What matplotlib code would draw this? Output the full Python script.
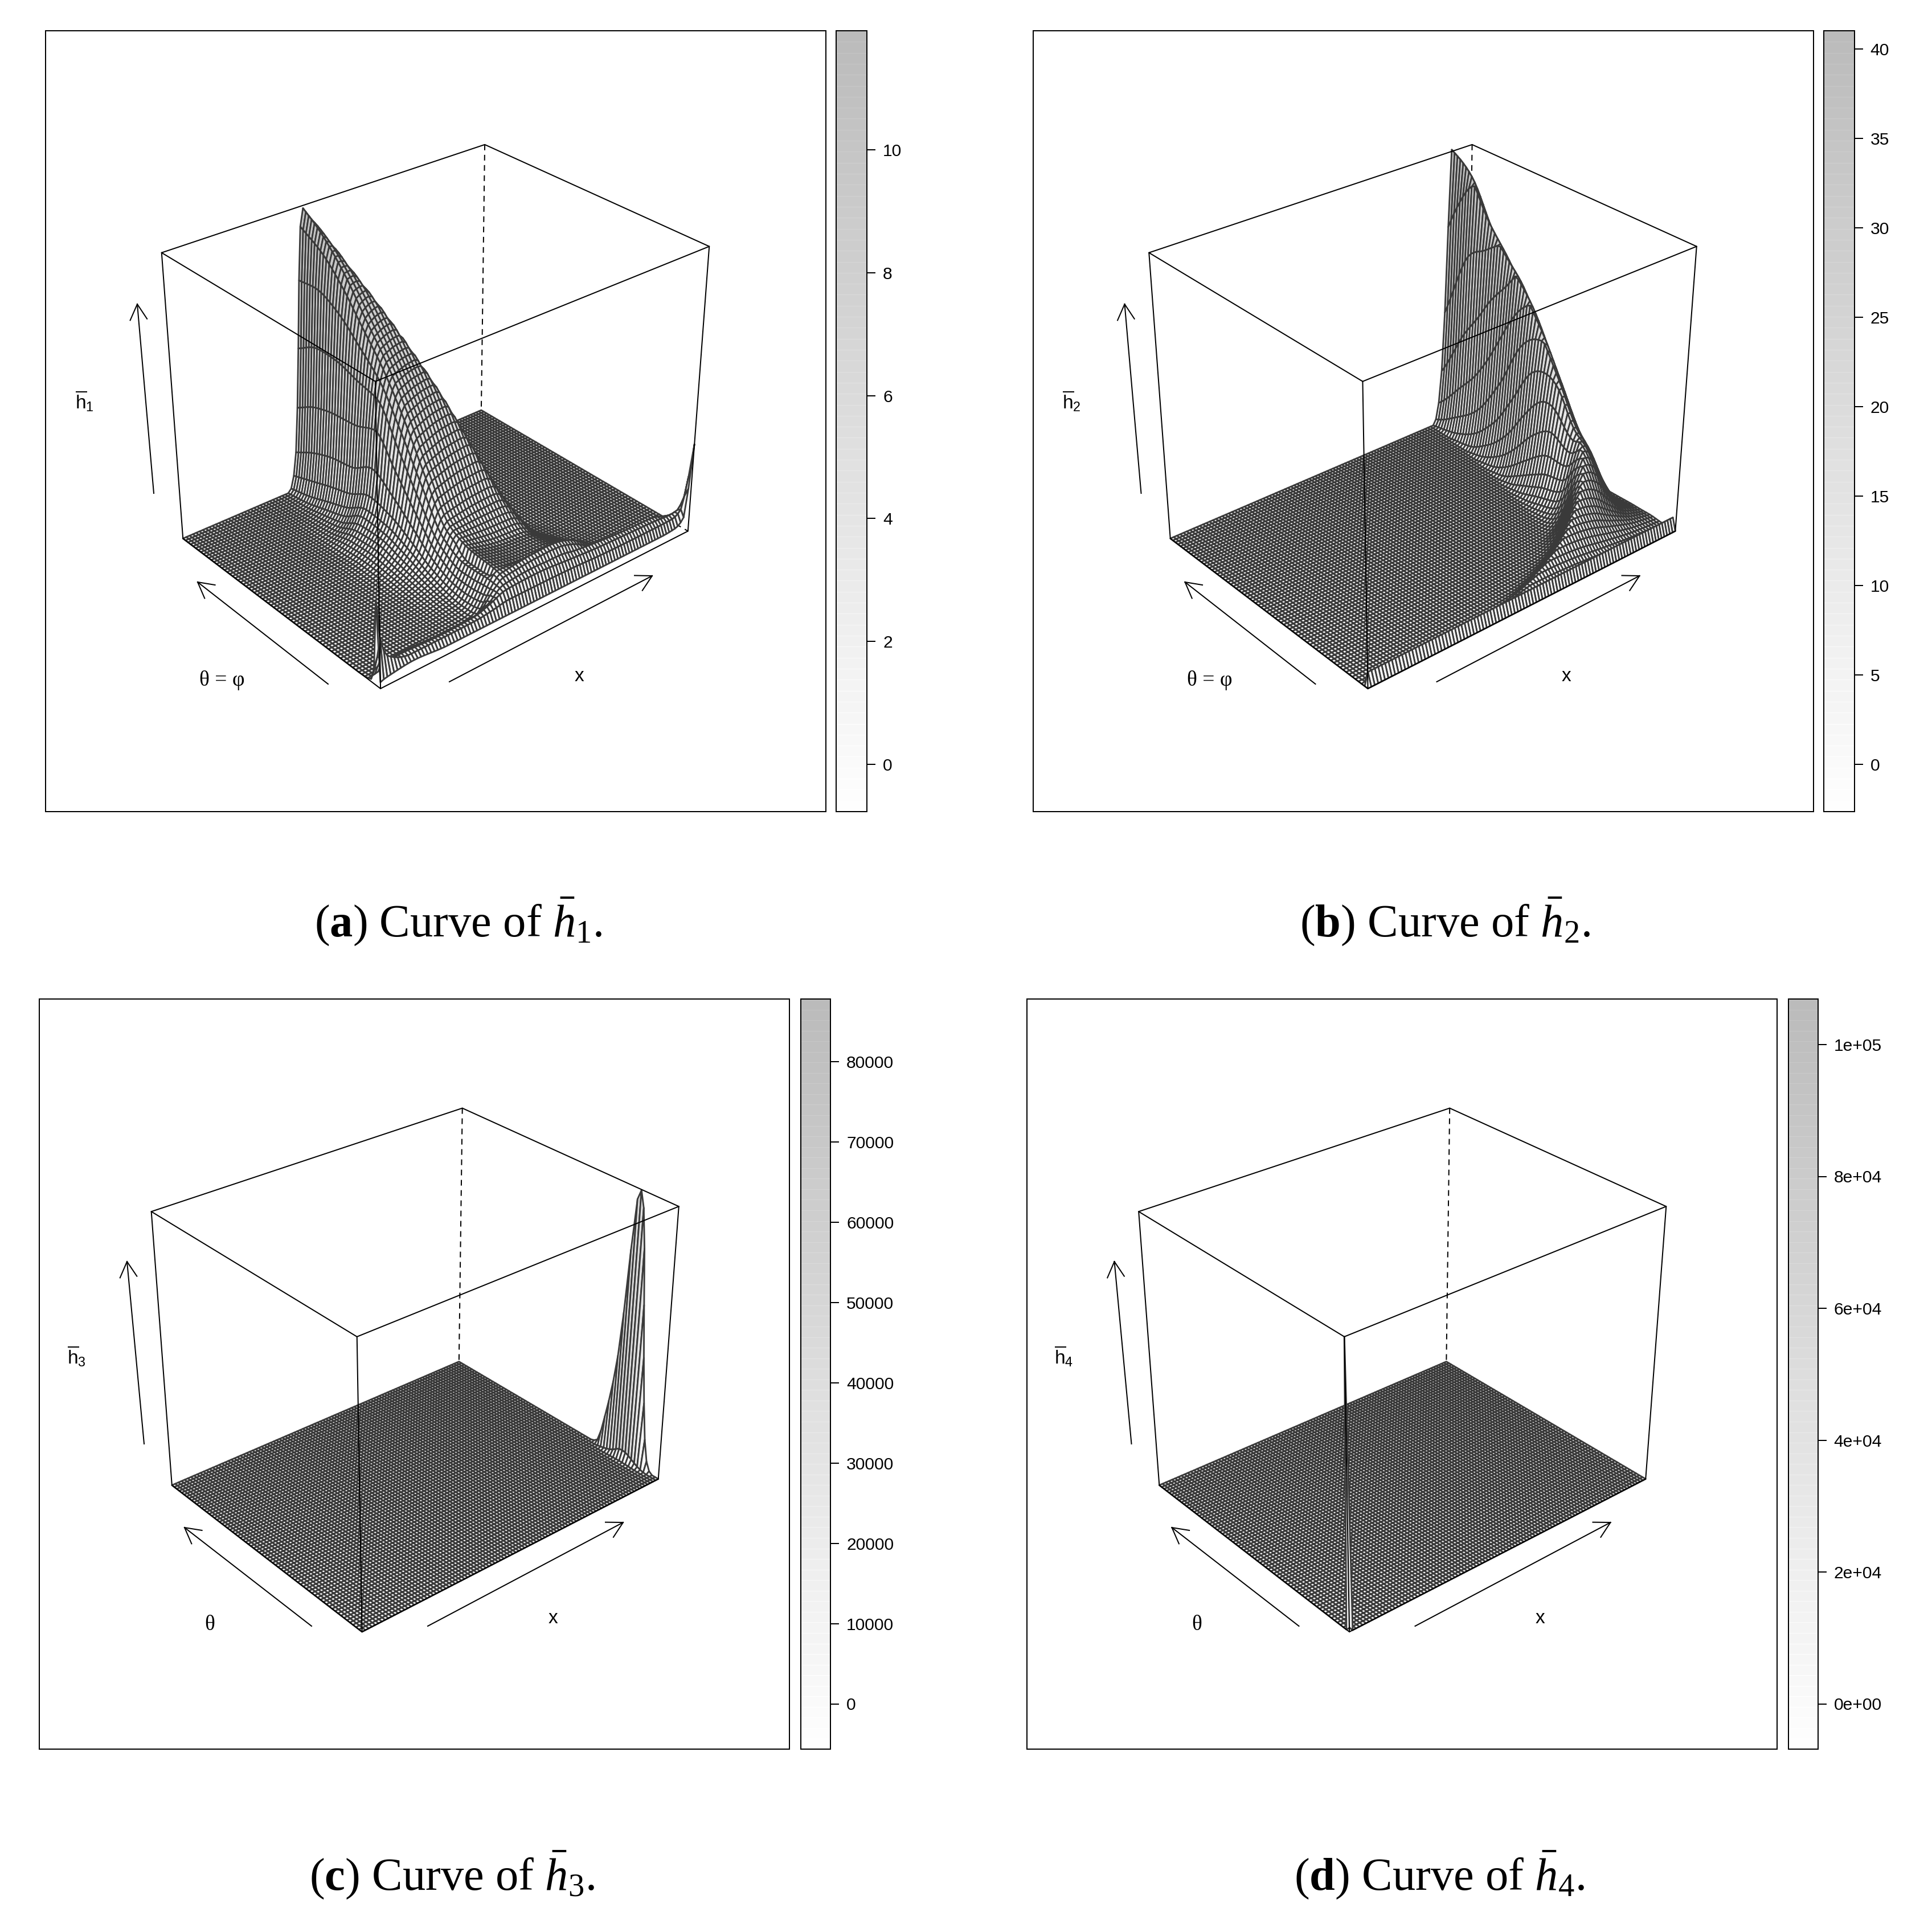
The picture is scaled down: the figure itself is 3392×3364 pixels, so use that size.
import numpy as np
import matplotlib
matplotlib.use("Agg")
import matplotlib.pyplot as plt
from matplotlib.collections import PolyCollection
from matplotlib.patches import Rectangle

plt.rcParams.update({
    "font.family": "Liberation Sans",
    "mathtext.fontset": "custom",
    "mathtext.rm": "Liberation Serif",
    "mathtext.it": "Liberation Serif:italic",
    "mathtext.bf": "Liberation Serif:bold",
    "mathtext.sf": "Liberation Sans",
})

# ---------------------------------------------------------------- data
# Control values. The fine mesh the reference draws cannot
# be read cell by cell, so it is resampled from these tables and outlines.
X_CELLS = 100
THETA_CELLS = 70

# h1: height along the rising flank, one row per theta in H1_FLANK_THETA
H1_FLANK_X = [0, .01, .03, .1, .2, .25, .285, .315, .335, .345, .355, .365, .375, .385, .395, .405]
H1_FLANK_THETA = [0, .05, .07, .1, .15, .2, .3, .4, .5, .6, .7, .8, .9, 1]
H1_FLANK_Z = [
    [0] * 16,
    [.05, .05, .1, .25, .3, .28, .3, .35, .45, .55, .7, .85, 1.0, 1.1, 1.2, 1.3],
    [.02, .02, .03, .05, .05, .05, .08, .15, .22, .32, .5, .7, .9, 1.1, 1.25, 1.4],
    [0, 0, 0, 0, .01, .01, .02, .05, .12, .22, .4, .6, .85, 1.1, 1.3, 1.5],
    [0, 0, 0, 0, 0, .01, .04, .08, .12, .2, .35, .55, .8, 1.05, 1.3, 1.55],
    [0, 0, 0, 0, .01, .03, .08, .15, .2, .28, .4, .58, .8, 1.05, 1.3, 1.6],
    [0, 0, 0, 0, .02, .06, .18, .35, .5, .6, .75, 1, 1.25, 1.5, 1.75, 2],
    [0, 0, 0, 0, .03, .1, .3, .6, .9, 1.1, 1.4, 1.9, 2.4, 2.9, 3.3, 3.6],
    [0, 0, 0, 0, .03, .12, .4, .85, 1.2, 1.5, 2.0, 2.9, 3.8, 4.5, 5, 5.4],
    [0, 0, 0, 0, .02, .06, .35, .8, 1.3, 1.6, 2.4, 3.7, 5.2, 6.0, 6.5, 6.9],
    [0, 0, 0, 0, 0, .02, .15, .4, .8, 1.2, 1.9, 3.3, 5.1, 6.6, 7.6, 8.1],
    [0, 0, 0, 0, 0, 0, .05, .2, .5, .9, 1.7, 3.2, 5.1, 7.2, 8.6, 9.4],
    [0, 0, 0, 0, 0, 0, 0, .05, .2, .6, 1.4, 2.9, 5, 7.4, 9.3, 10.4],
    [0, 0, 0, 0, 0, 0, 0, 0, 0, .4, .96, 2.43, 4.5, 7.08, 9.56, 11.15],
]
# h1: ridge line, per theta in H1_FLANK_THETA; None = taken from the outline below
H1_CREST_X = [.56, .56, .56, .56, .565, .57, .56, .53, .50, .475, .45, .43, .415, .405]
H1_FALL_WIDTH = [.3, .3, .3, .26, .22, .18, .14, .12, .11, .1, .1, .1, .1, .1]
H1_CREST_Z = [.1, 1.4, 1.6, None, None, None, None, None, None, None, None, None, None, None]
H1_TOP_AT = [0, .3, .6, 1]
H1_TOP_SHARE = [0, .45, .8, 1]
H1_OUTLINE_X = [528, 580, 627, 660, 697, 733, 763, 795, 817, 840, 867, 893, 917, 950, 973]
H1_OUTLINE_Y = [362, 427, 490, 533, 580, 640, 683, 740, 778, 823, 873, 913, 947, 970, 980]
# h1: low lip along the front edge and the corner spikes
H1_LIP_X = [0, .01, .03, .1, .2, .3, .35, .4, .5, .6, .7, .8, .9, .95, .98, 1]
H1_LIP_THETA = [0, .0143, .0286, .0429, .0571, .0714, .1]
H1_LIP_Z = [
    [.25, .3, .35, .45, .35, .35, .35, .35, .35, .35, .35, .35, .35, .4, .7, 3.6],
    [3.3, 1.8, 1.0, .6, .6, .62, .7, .8, .8, .78, .72, .7, .7, .72, .95, 2.2],
    [.6, 1.0, .7, .65, .6, .65, .85, 1.1, 1.15, 1.05, .95, .9, .85, .8, .85, 1.2],
    [.1, .4, .5, .55, .5, .5, .7, 1.2, 1.3, 1.2, 1.05, .95, .9, .7, .6, .7],
    [.05, .05, .1, .25, .3, .3, .3, .3, .3, .3, .3, .3, .3, .2, .2, .2],
    [.02, .02, .03, .05, .05, .05, .05, .05, .05, .05, .05, .05, .02, .02, .02, .02],
    [0] * 16,
]

# h2: ridge, per theta in H2_THETA
H2_THETA = [0, .03, .05, .1, .15, .2, .25, .3, .4, .5, .6, .7, .8, .9, .95, 1]
H2_FOOT_X = [.15, .27, .35, .5, .6, .66, .72, .75, .78, .8, .82, .835, .85, .86, .865, .87]
H2_CREST_X = [.42, .5, .55, .68, .76, .82, .85, .866, .872, .883, .895, .907, .915, .922, .926, .93]
H2_FALL_WIDTH = [.5, .5, .45, .35, .25, .18, .14, .12, .11, .1, .1, .1, .1, .1, .1, .1]
H2_CREST_Z = [0, .9, 1.5, 3.5, 5.5, 8, 10, None, None, None, None, None, None, None, None, None]
H2_OUTLINE_X = [2553, 2586, 2598, 2617, 2643, 2667, 2692, 2717, 2740, 2760, 2779, 2791, 2804, 2821, 2839]
H2_OUTLINE_Y = [263, 316, 366, 397, 450, 493, 550, 617, 689, 745, 800, 843, 882, 907, 929]
H2_RISE_SHARE = [0, .02, .08, .2, .42, .73, 1]
H2_RISE_AT = [0, .167, .333, .5, .667, .833, 1]
H2_LIP_THETA = [0, .0143, .0286, .0429]
H2_LIP_Z = [0, 1.7, .1, 0]

# shared by h1 and h2: drop behind the ridge
FALL_AT = [0, .1, .25, .5, .75, 1, 1.3]
FALL_SHARE = [1, .985, .88, .5, .17, .03, 0]

# h3: one spike on the far x edge
H3_X = [.96, .97, .98, .99, 1]
H3_X_SHARE = [0, 0, .003, .04, 1]
H3_THETA = [0, .03, .05, .07, .09, .11, .13, .15, .16, .175, .19, .21, .25, .29, .32, 1]
H3_ALONG_EDGE = [0, 0, 1600, 9000, 24600, 45000, 67200, 80300, 81900, 77000, 57700, 34000, 12800, 800, 0, 0]

# h4: one spike in the front corner
H4_X = [0, .01]
H4_THETA = [0, .01428]
H4_Z = [[99800, 0], [0, 0]]

KEY_TICKS_1 = [0, 2, 4, 6, 8, 10]
KEY_TICKS_2 = [0, 5, 10, 15, 20, 25, 30, 35, 40]
KEY_TICKS_3 = [0, 10000, 20000, 30000, 40000, 50000, 60000, 70000, 80000]
KEY_TICKS_4 = [0, 20000, 40000, 60000, 80000, 100000]
KEY_LABELS_4 = ["0e+00", "2e+04", "4e+04", "6e+04", "8e+04", "1e+05"]

# ---------------------------------------------------------------- layout
COL2 = 1733.5
CORNERS_TOP = [(284, 444), (851, 253), (1245, 433), (659, 670)]  # left, back, right, front
CORNERS_BOT = [(321, 944), (845, 722), (1208, 931), (668, 1210)]
CORNERS_TOP_C = [(266, 2128), (811, 1945), (1192, 2118), (627, 2347)]
CORNERS_BOT_C = [(301, 2606), (807, 2392), (1155, 2596), (636, 2866)]
INK = "#3a3a3a"
PX = 72 / 100


def shift(pts, dx):
    return [(a + dx, b) for a, b in pts]


def fit_projection(top, bot):
    """3x4 projective map from (x, theta, z) in the unit cube to figure pixels."""
    cube_xt = [(0, 1), (1, 1), (1, 0), (0, 0)]  # left, back, right, front
    rows = []
    for zv, pts in ((1, top), (0, bot)):
        for (xv, tv), (u, v) in zip(cube_xt, pts):
            p = [xv, tv, zv, 1]
            rows.append(p + [0, 0, 0, 0] + [-u * c for c in p])
            rows.append([0, 0, 0, 0] + p + [-v * c for c in p])
    return np.linalg.svd(np.array(rows, float))[2][-1].reshape(3, 4)


def project(P, x, t, z):
    shp = np.shape(x)
    h = P @ np.stack([np.ravel(x), np.ravel(t), np.ravel(z), np.ones(np.size(x))], axis=0)
    return (h[0] / h[2]).reshape(shp), (h[1] / h[2]).reshape(shp)


def pchip(xk, yk, xq):
    xk, yk = np.asarray(xk, float), np.asarray(yk, float)
    h = np.diff(xk)
    d = np.diff(yk) / h
    m = np.zeros_like(yk)
    m[0], m[-1] = d[0], d[-1]
    for i in range(1, len(xk) - 1):
        if d[i - 1] * d[i] > 0:
            w1, w2 = 2 * h[i] + h[i - 1], h[i] + 2 * h[i - 1]
            m[i] = (w1 + w2) / (w1 / d[i - 1] + w2 / d[i])
    q = np.clip(xq, xk[0], xk[-1])
    j = np.clip(np.searchsorted(xk, q, side="right") - 1, 0, len(xk) - 2)
    s = (q - xk[j]) / h[j]
    return ((2 * s**3 - 3 * s**2 + 1) * yk[j] + (s**3 - 2 * s**2 + s) * h[j] * m[j]
            + (-2 * s**3 + 3 * s**2) * yk[j + 1] + (s**3 - s**2) * h[j] * m[j + 1])


GX = np.linspace(0, 1, X_CELLS + 1)
GT = np.linspace(0, 1, THETA_CELLS + 1)


def mesh_from_table(xk, tk, table):
    along_x = np.array([pchip(xk, row, GX) for row in table])
    out = np.array([pchip(tk, along_x[:, i], GT) for i in range(GX.size)]).T
    return np.clip(out, 0, None)  # [theta index, x index]


def crest_heights(P, zmax, thetas, crest_x, listed, ox, oy):
    """Height of the ridge, from the listed value or from where the outline passes."""
    out = []
    zs = np.linspace(0, 1.02, 2041)
    for t, cx, given in zip(thetas, crest_x, listed):
        if given is not None:
            out.append(float(given))
            continue
        u, v = project(P, np.full_like(zs, cx), np.full_like(zs, t), zs)
        hit = np.nonzero(v <= np.interp(u, ox, oy))[0]
        out.append(float(zs[hit[0] if hit.size else -1]) * zmax)
    return out


def surface_1(P):
    crest = crest_heights(P, 11.15, H1_FLANK_THETA, H1_CREST_X, H1_CREST_Z, H1_OUTLINE_X, H1_OUTLINE_Y)
    flank_end = H1_FLANK_X[-1]
    knots = np.array(H1_FLANK_Z)
    knots_t = np.array([pchip(H1_FLANK_THETA, knots[:, k], GT) for k in range(knots.shape[1])]).T
    cx_t = pchip(H1_FLANK_THETA, H1_CREST_X, GT)
    cz_t = pchip(H1_FLANK_THETA, crest, GT)
    w_t = pchip(H1_FLANK_THETA, H1_FALL_WIDTH, GT)
    Z = np.zeros((GT.size, GX.size))
    for j in range(GT.size):
        flank = pchip(H1_FLANK_X, knots_t[j], GX)
        end_z = knots_t[j, -1]
        top = end_z + (cz_t[j] - end_z) * pchip(H1_TOP_AT, H1_TOP_SHARE,
                                                (GX - flank_end) / max(cx_t[j] - flank_end, 1e-6))
        fall = cz_t[j] * pchip(FALL_AT, FALL_SHARE, (GX - cx_t[j]) / w_t[j])
        Z[j] = np.where(GX <= flank_end, np.minimum(flank, cz_t[j]),
                        np.where(GX <= cx_t[j], top, fall))
    return np.maximum(np.clip(Z, 0, None), mesh_from_table(H1_LIP_X, H1_LIP_THETA, H1_LIP_Z))


def surface_2(P):
    crest = crest_heights(P, 38.2, H2_THETA, H2_CREST_X, H2_CREST_Z, H2_OUTLINE_X, H2_OUTLINE_Y)
    Z = np.zeros((GT.size, GX.size))
    foot_t = pchip(H2_THETA, H2_FOOT_X, GT)
    cx_t = pchip(H2_THETA, H2_CREST_X, GT)
    w_t = pchip(H2_THETA, H2_FALL_WIDTH, GT)
    cz_t = pchip(H2_THETA, crest, GT)
    for j in range(GT.size):
        low = GX <= cx_t[j]
        Z[j, low] = cz_t[j] * pchip(H2_RISE_AT, H2_RISE_SHARE,
                                    (GX[low] - foot_t[j]) / (cx_t[j] - foot_t[j]))
        Z[j, ~low] = cz_t[j] * pchip(FALL_AT, FALL_SHARE, (GX[~low] - cx_t[j]) / w_t[j])
    lip = pchip(H2_LIP_THETA, H2_LIP_Z, GT)[:, None] * np.ones((1, GX.size))
    lip[:, 0] = 0
    return np.maximum(np.clip(Z, 0, None), lip)


def key_gray(frac):
    return 0.998 - 0.265 * np.asarray(frac)


def arrow(ax, a, b):
    a, b = np.array(a, float), np.array(b, float)
    ax.plot(*zip(a, b), color="k", lw=2 * PX, zorder=6)
    ang = np.arctan2(*(a - b)[::-1])
    for da in (-.5, .5):
        ax.plot([b[0], b[0] + 31 * np.cos(ang + da)], [b[1], b[1] + 31 * np.sin(ang + da)],
                color="k", lw=2 * PX, zorder=6)


def draw_panel(ax, P, zmax, Z, frame, key, lo, hi, ticks, labels, tick0, tick_scale,
               zlab, tlab, xlab, zarrow, tarrow, xarrow, caption):
    fx0, fy0, fx1, fy1 = frame
    ax.add_patch(Rectangle((fx0, fy0), fx1 - fx0, fy1 - fy0, fill=False, ec="k", lw=2 * PX, zorder=7))
    kx0, kx1 = key
    n_band = 71
    edges = np.linspace(fy1, fy0, n_band + 1)
    for i in range(n_band):
        g = float(key_gray((i + .5) / n_band))
        ax.add_patch(Rectangle((kx0, edges[i + 1]), kx1 - kx0, edges[i] - edges[i + 1],
                               fc=(g, g, g), ec="none", zorder=1))
        if i:
            gs = min(1, g + .035)
            ax.plot([kx0, kx1], [edges[i]] * 2, color=(gs, gs, gs), lw=1.2 * PX, zorder=1.5)
    ax.add_patch(Rectangle((kx0, fy0), kx1 - kx0, fy1 - fy0, fill=False, ec="k", lw=2 * PX, zorder=7))
    for v, lab in zip(ticks, labels):
        yy = tick0 - v * tick_scale
        ax.plot([kx1, kx1 + 14], [yy, yy], color="k", lw=2 * PX, zorder=7)
        ax.text(kx1 + 28, yy, lab, fontsize=21.6, ha="left", va="center_baseline")

    cube = {"L": (0, 1), "B": (1, 1), "R": (1, 0), "F": (0, 0)}

    def corner(name, zv):
        xv, tv = cube[name]
        u, v = project(P, np.array([float(xv)]), np.array([float(tv)]), np.array([float(zv)]))
        return u[0], v[0]

    def seg(p, q, **kw):
        ax.plot([p[0], q[0]], [p[1], q[1]], color="k", lw=2 * PX, solid_capstyle="round", **kw)

    for p, q in ((corner("B", 1), corner("B", 0)), (corner("B", 0), corner("L", 0)),
                 (corner("B", 0), corner("R", 0))):
        ax.plot([p[0], q[0]], [p[1], q[1]], color="k", lw=2 * PX, dashes=(5, 4), zorder=2)

    xx, tt = np.meshgrid(GX, GT)
    u, v = project(P, xx, tt, Z / zmax)
    verts, shade = [], []
    for j in range(THETA_CELLS - 1, -1, -1):
        for i in range(X_CELLS - 1, -1, -1):
            verts.append([(u[j, i], v[j, i]), (u[j, i + 1], v[j, i + 1]),
                          (u[j + 1, i + 1], v[j + 1, i + 1]), (u[j + 1, i], v[j + 1, i])])
            shade.append((Z[j, i] + Z[j, i + 1] + Z[j + 1, i] + Z[j + 1, i + 1]) / 4)
    gr = key_gray((np.array(shade) - lo) / (hi - lo))
    fc = np.stack([gr, gr, gr, np.ones_like(gr)], axis=1)
    ax.add_collection(PolyCollection(verts, facecolors=fc, edgecolors=INK, linewidths=2.8 * PX,
                                     joinstyle="round", zorder=3))

    for p, q in (("L", "B"), ("B", "R"), ("R", "F"), ("F", "L")):
        seg(corner(p, 1), corner(q, 1), zorder=5)
    for p, q in (("L", "F"), ("F", "R")):
        seg(corner(p, 0), corner(q, 0), zorder=5)
    for p in ("L", "F", "R"):
        seg(corner(p, 1), corner(p, 0), zorder=5)

    arrow(ax, *zarrow)
    arrow(ax, *tarrow)
    arrow(ax, *xarrow)
    ax.text(*zlab[0], zlab[1], fontsize=24, ha="center", va="center")
    ax.text(*tlab[0], tlab[1], fontsize=27, family="Liberation Serif", ha="center", va="center")
    ax.text(*xlab, "x", fontsize=24, ha="center", va="center")
    ax.text(*caption[0], caption[1], fontsize=58, family="Liberation Serif", ha="center", va="center")


fig = plt.figure(figsize=(33.92, 33.64), dpi=100)
ax = fig.add_axes([0, 0, 1, 1])
ax.set_xlim(0, 3392)
ax.set_ylim(3364, 0)
ax.axis("off")

P_A = fit_projection(CORNERS_TOP, CORNERS_BOT)
P_B = fit_projection(shift(CORNERS_TOP, COL2), shift(CORNERS_BOT, COL2))
P_C = fit_projection(CORNERS_TOP_C, CORNERS_BOT_C)
P_D = fit_projection(shift(CORNERS_TOP_C, COL2), shift(CORNERS_BOT_C, COL2))

Z1 = surface_1(P_A)
Z2 = surface_2(P_B)
Z3 = mesh_from_table(H3_X, H3_THETA, [[s * e for s in H3_X_SHARE] for e in H3_ALONG_EDGE])
Z4 = mesh_from_table(H4_X, H4_THETA, H4_Z)

d = COL2
draw_panel(ax, P_A, 11.15, Z1, (80, 54, 1450, 1425), (1468, 1522), -.77, 11.94, KEY_TICKS_1,
           [str(v) for v in KEY_TICKS_1], 1342, 107.9,
           ((148, 705), r"$\overline{\mathsf{h}}_{\mathsf{1}}$"), ((390, 1194), "θ = φ"), (1017, 1187),
           ((270, 866), (241, 534)), ((576, 1201), (347, 1022)), ((789, 1197), (1145, 1011)),
           ((805, 1618), r"($\mathbf{a}$) Curve of $\bar{h}_{1}$."))
draw_panel(ax, P_B, 38.2, Z2, (80 + d, 54, 1450 + d, 1425), (1468 + d, 1522 + d), -2.6, 41, KEY_TICKS_2,
           [str(v) for v in KEY_TICKS_2], 1342, 31.4,
           ((148 + d, 705), r"$\overline{\mathsf{h}}_{\mathsf{2}}$"), ((390 + d, 1194), "θ = φ"), (1017 + d, 1187),
           ((270 + d, 866), (241 + d, 534)), ((576 + d, 1201), (347 + d, 1022)), ((789 + d, 1197), (1145 + d, 1011)),
           ((2537, 1618), r"($\mathbf{b}$) Curve of $\bar{h}_{2}$."))
draw_panel(ax, P_C, 81900, Z3, (69, 1754, 1386, 3071), (1406, 1458), -5600, 87800, KEY_TICKS_3,
           [str(v) for v in KEY_TICKS_3], 2991.5, 0.01409,
           ((134, 2382), r"$\overline{\mathsf{h}}_{\mathsf{3}}$"), ((368, 2853), "θ"), (971, 2842),
           ((253, 2535), (223, 2215)), ((547, 2855), (324, 2682)), ((751, 2855), (1094, 2673)),
           ((794, 3292), r"($\mathbf{c}$) Curve of $\bar{h}_{3}$."))
draw_panel(ax, P_D, 99800, Z4, (69 + d, 1754, 1386 + d, 3071), (1406 + d, 1458 + d), -6900, 106900, KEY_TICKS_4,
           KEY_LABELS_4, 2991.5, 0.011575,
           ((134 + d, 2382), r"$\overline{\mathsf{h}}_{\mathsf{4}}$"), ((368 + d, 2853), "θ"), (971 + d, 2842),
           ((253 + d, 2535), (223 + d, 2215)), ((547 + d, 2855), (324 + d, 2682)), ((751 + d, 2855), (1094 + d, 2673)),
           ((794 + d, 3292), r"($\mathbf{d}$) Curve of $\bar{h}_{4}$."))

fig.savefig("out.png", dpi=100, facecolor="white")
